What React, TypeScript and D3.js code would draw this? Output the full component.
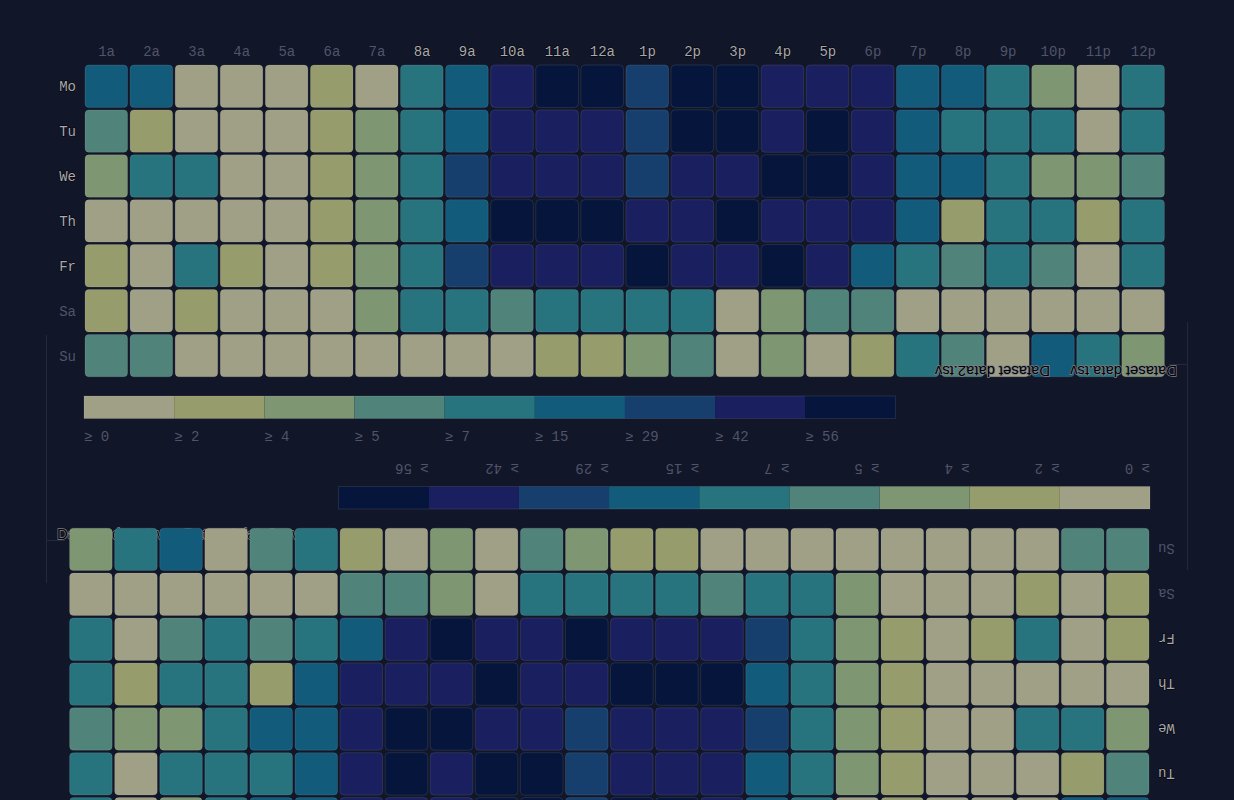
import React from "react";
import * as d3 from "d3";

// day / hour heatmap, the page shows it twice: upright and turned 180deg
const days = ["Mo", "Tu", "We", "Th", "Fr", "Sa", "Su"];
const times = [
  "1a", "2a", "3a", "4a", "5a", "6a", "7a", "8a", "9a", "10a", "11a", "12a",
  "1p", "2p", "3p", "4p", "5p", "6p", "7p", "8p", "9p", "10p", "11p", "12p",
];

const monday = [16, 20, 0, 0, 0, 2, 0, 9, 25, 49, 57, 61, 37, 66, 70, 55, 51, 55, 17, 20, 9, 4, 0, 12];
const tuesday = [6, 2, 0, 0, 0, 2, 4, 11, 28, 49, 51, 47, 38, 65, 60, 50, 65, 50, 22, 11, 12, 9, 0, 13];
const wednesday = [4, 8, 8, 0, 0, 2, 4, 12, 34, 43, 54, 44, 40, 48, 54, 59, 60, 51, 21, 16, 9, 4, 4, 6];
const thursday = [0, 0, 0, 0, 0, 2, 4, 11, 26, 58, 61, 62, 45, 54, 57, 52, 50, 51, 18, 3, 11, 10, 3, 9];
const friday = [3, 1, 9, 2, 0, 2, 4, 10, 30, 50, 52, 48, 58, 50, 47, 60, 49, 16, 12, 6, 8, 5, 0, 10];
const saturday = [3, 1, 3, 0, 1, 0, 4, 8, 9, 6, 10, 11, 12, 8, 1, 4, 5, 6, 0, 1, 0, 1, 0, 1];
const sunday = [5, 6, 1, 0, 0, 0, 0, 0, 1, 0, 3, 3, 4, 6, 1, 4, 0, 3, 8, 6, 1, 17, 13, 4];

const week = [monday, tuesday, wednesday, thursday, friday, saturday, sunday];

const thresholds = [0, 2, 4, 5, 7, 15, 29, 42, 56];
const colors = [
  "#a0a087", "#979c6d", "#7e9672", "#50847a", "#28747e",
  "#135b7b", "#173f6d", "#1a1f5f", "#05153c",
];
const buttons = ["Dataset data.tsv", "Dataset data2.tsv"];

const bg = "#111628";
const gridSize = 45.08;
const left = 84;
const top = 64;

const color = d3.scaleThreshold<number, string>().domain(thresholds.slice(1)).range(colors);
const x = d3.scaleBand().domain(times).range([left, left + gridSize * 24]);
const y = d3.scaleBand().domain(days).range([top, top + 44.9 * 7]);
const legendX = d3
  .scaleBand<number>()
  .domain(thresholds)
  .range([left, left + gridSize * 2 * thresholds.length]);

const mono = "'Liberation Mono', 'DejaVu Sans Mono', monospace";
const hot = "#a9a9ab";
const dim = "#50546a";

const Chart = () => {
  const cells = week.flatMap((row, d) =>
    row.map((v, h) => ({ day: days[d], time: times[h], value: v }))
  );
  const legendY = 396;

  return (
    <g>
      {/* faint panel edges */}
      <line x1={46.5} x2={46.5} y1={335} y2={583} stroke="#222a40" />
      <line x1={46} x2={65} y1={540.5} y2={540.5} stroke="#222a40" />

      {/* buttons row, sits under the other copy */}
      {buttons.map((b, i) => (
        <text
          key={b}
          x={57 + i * 127}
          y={539}
          fontFamily="'Liberation Sans', Arial, sans-serif"
          fontSize={14.8}
          fill="#000"
          stroke="#7d7f8a"
          strokeWidth={1.4}
          paintOrder="stroke"
        >
          {b}
        </text>
      ))}

      {days.map((d, i) => (
        <text
          key={d}
          x={left - 8}
          y={y(d)! + y.bandwidth() / 2 + 5}
          textAnchor="end"
          fontFamily={mono}
          fontSize={14}
          fill={i <= 4 ? hot : dim}
          stroke={i <= 4 ? "#000" : "none"}
          strokeWidth={0.8}
          paintOrder="stroke"
        >
          {d}
        </text>
      ))}

      {times.map((t, i) => (
        <text
          key={t}
          x={x(t)! + x.bandwidth() / 2}
          y={56}
          textAnchor="middle"
          fontFamily={mono}
          fontSize={14}
          fill={i >= 7 && i <= 16 ? hot : dim}
          stroke={i >= 7 && i <= 16 ? "#000" : "none"}
          strokeWidth={0.8}
          paintOrder="stroke"
        >
          {t}
        </text>
      ))}

      {cells.map((c) => (
        <rect
          key={c.day + c.time}
          x={x(c.time)! + 1}
          y={y(c.day)! + 1}
          width={x.bandwidth() - 2.5}
          height={y.bandwidth() - 2.5}
          rx={4}
          fill={color(c.value)}
          stroke="#ffffff"
          strokeOpacity={0.1}
        />
      ))}

      {thresholds.map((t, i) => (
        <g key={t}>
          <rect
            x={legendX(t)!}
            y={legendY}
            width={legendX.bandwidth()}
            height={gridSize / 2}
            fill={colors[i]}
          />
          <text
            x={legendX(t)!}
            y={legendY + 45}
            fontFamily={mono}
            fontSize={14}
            fill={dim}
          >
            {"≥ " + t}
          </text>
        </g>
      ))}
      <rect
        x={left}
        y={legendY}
        width={legendX.bandwidth() * thresholds.length}
        height={gridSize / 2}
        fill="none"
        stroke="#ffffff"
        strokeOpacity={0.1}
      />
    </g>
  );
};

export default function App() {
  return (
    <div style={{ position: "fixed", inset: 0, background: bg, overflow: "hidden" }}>
      <svg width={1234} height={800} style={{ display: "block" }}>
        <rect width={1234} height={800} fill={bg} />
        <Chart />
        <g transform="rotate(180 617 452.5)">
          <Chart />
        </g>
      </svg>
    </div>
  );
}
